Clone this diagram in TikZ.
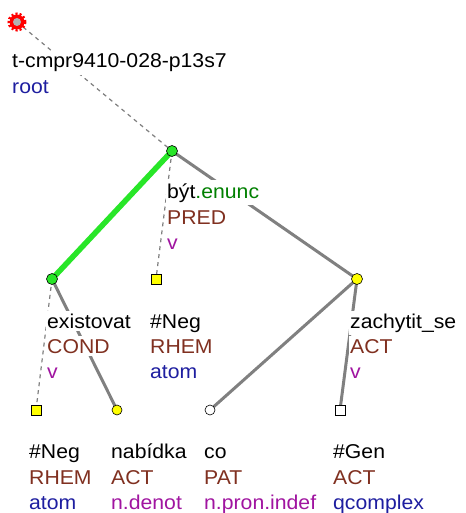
\documentclass[tikz,border=0pt]{standalone}
\usepackage{fontspec}
\setmainfont{Liberation Sans}
\newfontfamily\lbfont[FakeStretch=1.06]{Liberation Sans}
\pgfdeclarelayer{bg}
\pgfsetlayers{bg,main}
\definecolor{edgegray}{RGB}{128,128,128}
\definecolor{hlgreen}{RGB}{40,230,40}
\definecolor{fnbrown}{RGB}{128,48,32}
\definecolor{tblue}{RGB}{30,30,160}
\definecolor{tpurple}{RGB}{160,20,160}
\definecolor{tgreen}{RGB}{0,128,0}
\definecolor{nodeyellow}{RGB}{255,255,0}
\definecolor{nodegreen}{RGB}{40,230,40}
\tikzset{
  x=1pt, y=-1pt,
  lbl/.style={anchor=base west, fill=white, inner xsep=1pt, inner ysep=3pt, font=\lbfont\fontsize{20}{24}\selectfont},
  solidedge/.style={draw=edgegray, line width=3pt},
  dashededge/.style={draw=edgegray, line width=1.2pt, dash pattern=on 4pt off 4pt},
  hledge/.style={draw=hlgreen, line width=5.5pt},
  circnode/.style={circle, draw=black, line width=0.6pt, minimum size=11pt, inner sep=0pt},
  sqnode/.style={rectangle, draw=black, line width=0.8pt, minimum size=10pt, inner sep=0pt},
}
\begin{document}
\begin{tikzpicture}
\useasboundingbox (0,0) rectangle (465,513);
% nodes
\node[circle, fill=red, minimum size=15pt, inner sep=0pt] (root) at (17,22) {};
\draw[red, line width=3pt, dash pattern=on 2pt off 2pt] (root.center) circle (8pt);
\fill[gray!60] (root.center) circle (4pt);
\node[circnode, fill=nodegreen] (byt) at (172,151) {};
\node[circnode, fill=nodegreen] (exi) at (52,279) {};
\node[sqnode, fill=nodeyellow] (neg1) at (156,279) {};
\node[circnode, fill=nodeyellow] (zach) at (357,279) {};
\node[sqnode, fill=nodeyellow] (neg2) at (36,410) {};
\node[circnode, fill=nodeyellow, minimum size=10pt] (nab) at (117,410) {};
\node[circnode, fill=white, minimum size=10pt] (co) at (210,410) {};
\node[sqnode, fill=white] (gen) at (340,410) {};
% edges
\begin{pgfonlayer}{bg}
\fill[white] (0,0) rectangle (465,513);
\draw[dashededge] (root.center) -- (byt.center);
\draw[solidedge] (byt.center) -- (exi.center);
\draw[hledge] (byt.center) -- (exi.center);
\draw[dashededge] (byt.center) -- (neg1.center);
\draw[solidedge] (byt.center) -- (zach.center);
\draw[dashededge] (exi.center) -- (neg2.center);
\draw[solidedge] (exi.center) -- (nab.center);
\draw[solidedge] (zach.center) -- (co.center);
\draw[solidedge] (zach.center) -- (gen.center);
\end{pgfonlayer}
% labels
\node[lbl] (rootA) at (11,68) {t-cmpr9410-028-p13s7};
\node[lbl, text=tblue] (rootB) at (11,94) {root};
\node[lbl] (bytA) at (166,198) {být\textcolor{tgreen}{.enunc}};
\node[lbl, text=fnbrown] (bytB) at (166,224) {PRED};
\node[lbl, text=tpurple] (bytC) at (166,249) {v};
\node[lbl] (exiA) at (46,328) {existovat};
\node[lbl, text=fnbrown] (exiB) at (46,353) {COND};
\node[lbl, text=tpurple] (exiC) at (46,378) {v};
\node[lbl] (neg1A) at (149,328) {\#Neg};
\node[lbl, text=fnbrown] (neg1B) at (149,353) {RHEM};
\node[lbl, text=tblue] (neg1C) at (149,378) {atom};
\node[lbl] (zachA) at (349,328) {zachytit\_se};
\node[lbl, text=fnbrown] (zachB) at (349,353) {ACT};
\node[lbl, text=tpurple] (zachC) at (349,378) {v};
\node[lbl] (neg2A) at (28,458) {\#Neg};
\node[lbl, text=fnbrown] (neg2B) at (28,484) {RHEM};
\node[lbl, text=tblue] (neg2C) at (28,509) {atom};
\node[lbl] (nabA) at (110,458) {nabídka};
\node[lbl, text=fnbrown] (nabB) at (110,484) {ACT};
\node[lbl, text=tpurple] (nabC) at (110,509) {n.denot};
\node[lbl] (coA) at (203,458) {co};
\node[lbl, text=fnbrown] (coB) at (203,484) {PAT};
\node[lbl, text=tpurple] (coC) at (203,509) {n.pron.indef};
\node[lbl] (genA) at (332,458) {\#Gen};
\node[lbl, text=fnbrown] (genB) at (332,484) {ACT};
\node[lbl, text=tblue] (genC) at (332,509) {qcomplex};
\end{tikzpicture}
\end{document}
